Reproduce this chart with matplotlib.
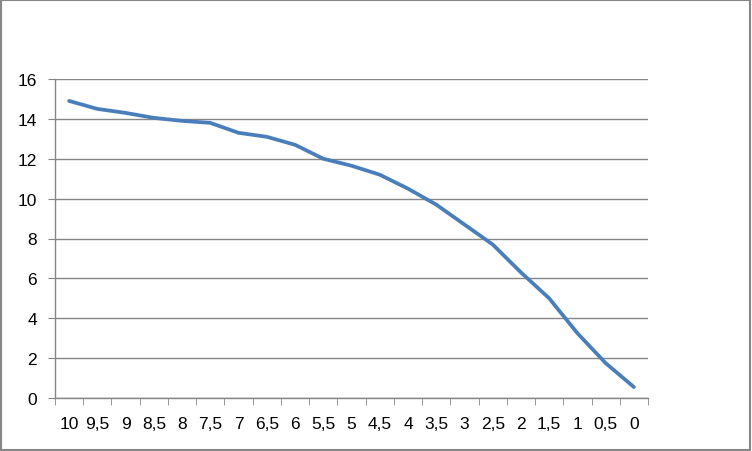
import matplotlib
matplotlib.use('Agg')
import matplotlib.pyplot as plt
import numpy as np
from matplotlib.patches import Rectangle

categories = ['10', '9,5', '9', '8,5', '8', '7,5', '7', '6,5', '6', '5,5', '5',
              '4,5', '4', '3,5', '3', '2,5', '2', '1,5', '1', '0,5', '0']
values = [14.9, 14.5, 14.3, 14.05, 13.9, 13.8, 13.3, 13.1, 12.7, 12.0, 11.65,
          11.2, 10.5, 9.7, 8.7, 7.7, 6.3, 5.0, 3.25, 1.75, 0.55]

plt.rcParams['font.family'] = ['Liberation Sans', 'DejaVu Sans']

fig = plt.figure(figsize=(7.52, 4.52), dpi=100)
ax = fig.add_axes([55 / 752, 1 - 399 / 452, (648 - 55) / 752, (399 - 80) / 452])

x = np.arange(len(categories))
ax.plot(x, values, color='#4A7EBB', linewidth=2.7, solid_capstyle='round')

ax.set_xlim(-0.5, len(categories) - 0.5)
ax.set_ylim(0, 16)
ax.set_yticks(range(0, 17, 2))
ax.set_xticks(x)
ax.set_xticklabels(categories)
ax.set_xticks(np.arange(-0.5, len(categories), 1), minor=True)

ax.grid(axis='y', color='#868686', linewidth=1)
ax.set_axisbelow(True)
for s in ['top', 'right']:
    ax.spines[s].set_visible(False)
for s in ['left', 'bottom']:
    ax.spines[s].set_color('#868686')
    ax.spines[s].set_linewidth(1)

ax.tick_params(axis='x', which='major', length=0, pad=13, labelsize=12.5)
ax.tick_params(axis='x', which='minor', length=5, color='#868686')
ax.tick_params(axis='y', length=5, color='#868686', pad=8, labelsize=12.5)

fig.patches.append(Rectangle((0.001, 0.002), 0.997, 0.995, transform=fig.transFigure,
                             fill=False, edgecolor='#868686', linewidth=1.5))

fig.savefig('out.png', dpi=100)
